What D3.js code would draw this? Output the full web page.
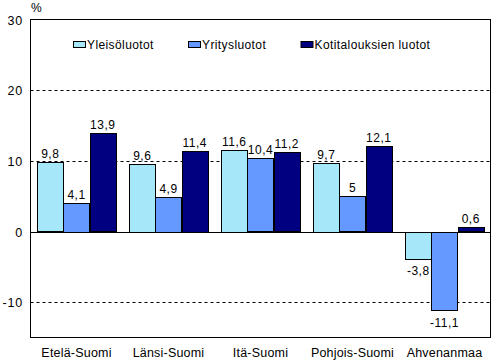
<!DOCTYPE html>
<html><head><meta charset="utf-8">
<script src="https://cdn.jsdelivr.net/npm/d3@7"></script>
<style>body{margin:0;background:#fff}svg{display:block}text{font-family:"Liberation Sans",Arial,sans-serif;fill:#000}</style>
</head><body>
<script>
const categories = ["Etelä-Suomi","Länsi-Suomi","Itä-Suomi","Pohjois-Suomi","Ahvenanmaa"];
const seriesNames = ["Yleisöluotot","Yritysluotot","Kotitalouksien luotot"];
const yleisoluotot = [9.8, 9.6, 11.6, 9.7, -3.8];
const yritysluotot = [4.1, 4.9, 10.4, 5, -11.1];
const kotitaloudet = [13.9, 11.4, 11.2, 12.1, 0.6];
const yTicks = [-10, 0, 10, 20, 30];
const colors = ["#A6E8FA","#6699FF","#000080"];
const series = [yleisoluotot, yritysluotot, kotitaloudet];

const W=495,H=360;
const L=30.5,R=490.5,T=19.5,B=337.5;
const svg=d3.select("body").append("svg").attr("width",W).attr("height",H);
const y=d3.scaleLinear().domain([-15,30]).range([B,T]);
const x0=d3.scaleBand().domain(categories).range([L,R]).padding(0);
const x1=d3.scaleBand().domain(d3.range(3)).range([0,x0.bandwidth()]).paddingInner(0).paddingOuter(0.253);

// gridlines
svg.append("g").selectAll("line").data(yTicks.filter(t=>t!==0&&t!==30)).join("line")
 .attr("x1",L).attr("x2",R).attr("y1",d=>Math.round(y(d))+0.5).attr("y2",d=>Math.round(y(d))+0.5)
 .attr("stroke","#000").attr("stroke-dasharray","3,3");

// bars
const fmt=v=>String(v).replace(".",",");
categories.forEach((c,i)=>{
  series.forEach((s,j)=>{
    const v=s[i];
    const bx=x0(c)+x1(j);
    svg.append("rect").attr("x",Math.round(bx)+0.5).attr("width",Math.round(x1.bandwidth()))
      .attr("y",Math.round(y(Math.max(v,0)))+0.5).attr("height",Math.max(1,Math.round(Math.abs(y(v)-y(0)))))
      .attr("fill",colors[j]).attr("stroke","#000").attr("stroke-width",1);
    svg.append("text").attr("x",bx+x1.bandwidth()/2).attr("y",v>=0?y(v)-4:y(v)+17)
      .attr("text-anchor","middle").attr("font-size","12px").attr("letter-spacing","0.5px").text(fmt(v));
  });
});

// zero line
svg.append("line").attr("x1",L).attr("x2",R).attr("y1",Math.round(y(0))+0.5).attr("y2",Math.round(y(0))+0.5).attr("stroke","#000");
// border
svg.append("rect").attr("x",L).attr("y",T).attr("width",R-L).attr("height",B-T).attr("fill","none").attr("stroke","#000");

// y axis labels
svg.append("g").selectAll("text").data(yTicks).join("text")
 .attr("x",23).attr("y",d=>y(d)+5).attr("text-anchor","end").attr("font-size","12.5px").attr("letter-spacing","0.8px").text(d=>d);
svg.append("text").attr("x",31).attr("y",12).attr("font-size","12px").text("%");

// category labels
svg.append("g").selectAll("text").data(categories).join("text")
 .attr("x",d=>x0(d)+x0.bandwidth()/2).attr("y",357).attr("text-anchor","middle").attr("font-size","12.5px").attr("letter-spacing","0.2px").text(d=>d);

// legend
const legX=[73,188,300.5];
seriesNames.forEach((n,j)=>{
  svg.append("rect").attr("x",legX[j]+0.5).attr("y",41.5).attr("width",12).attr("height",6).attr("fill",colors[j]).attr("stroke","#000");
  svg.append("text").attr("x",legX[j]+14).attr("y",49).attr("font-size","12px").attr("letter-spacing","0.4px").text(n);
});
</script>
</body></html>
